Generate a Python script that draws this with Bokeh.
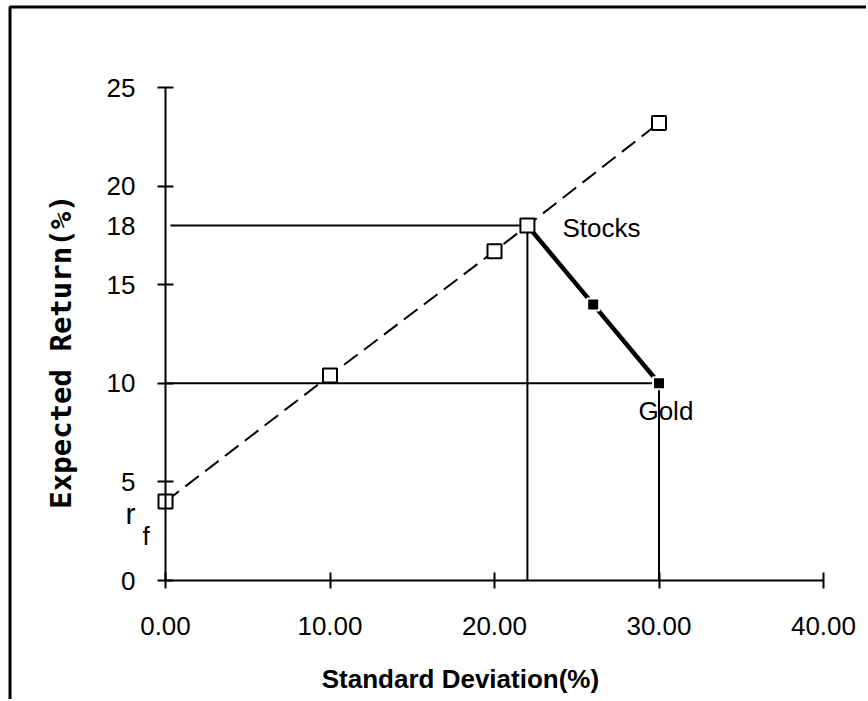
import math
from bokeh.plotting import figure
from bokeh.models import FixedTicker, NumeralTickFormatter, Label, BoxAnnotation
from bokeh.embed import file_html
from bokeh.resources import INLINE

# ---- data ----
frontier_sd = [0, 10, 20, 22, 30]          # dashed capital allocation line (open squares)
frontier_ret = [4.0, 10.4, 16.7, 18.0, 23.2]
mix_sd = [22, 26, 30]                      # stocks-gold combinations (solid thick line)
mix_ret = [18.0, 14.0, 10.0]
filled_sd = [26, 30]
filled_ret = [14.0, 10.0]
stocks_pt = (22, 18)
gold_pt = (30, 10)
x_ticks = [0, 10, 20, 30, 40]
y_ticks = [0, 5, 10, 15, 20, 25]
extra_y_label = 18

FONT = "Liberation Sans"

W, H = 866, 699
PX_X, PX_Y = 16.45, 19.72       # pixels per data unit
X0, Y0 = 165, 580               # pixel position of the origin

p = figure(frame_width=W, frame_height=H,
           x_range=(-X0 / PX_X, (W - X0) / PX_X),
           y_range=(-(H - Y0) / PX_Y, Y0 / PX_Y),
           min_border_left=0, min_border_right=0, min_border_top=0, min_border_bottom=0,
           output_backend="svg", toolbar_location=None)
p.outline_line_color = None
p.grid.visible = False
p.background_fill_color = "white"
p.border_fill_color = "white"

for ax in (p.xaxis[0], p.yaxis[0]):
    ax.fixed_location = 0
    ax.axis_line_width = 2
    ax.axis_line_color = "black"
    ax.major_tick_line_width = 2
    ax.major_tick_line_color = "black"
    ax.major_tick_in = 8
    ax.major_tick_out = 8
    ax.minor_tick_line_color = None
    ax.major_label_text_font = FONT
    ax.major_label_text_font_size = "26px"
    ax.major_label_text_color = "black"

p.xaxis[0].bounds = (0, 40)
p.xaxis[0].ticker = FixedTicker(ticks=x_ticks)
p.xaxis[0].formatter = NumeralTickFormatter(format="0.00")
p.xaxis[0].major_label_standoff = 28

p.yaxis[0].bounds = (0, 25)
p.yaxis[0].ticker = FixedTicker(ticks=y_ticks)
p.yaxis[0].major_label_standoff = 22

# reference lines
p.line([0.3, stocks_pt[0]], [stocks_pt[1], stocks_pt[1]], line_color="black", line_width=2)
p.line([0, gold_pt[0]], [gold_pt[1], gold_pt[1]], line_color="black", line_width=2)
p.line([stocks_pt[0], stocks_pt[0]], [0, stocks_pt[1]], line_color="black", line_width=2)
p.line([gold_pt[0], gold_pt[0]], [0, gold_pt[1]], line_color="black", line_width=2)

# stocks-gold combination line
p.line(mix_sd, mix_ret, line_color="black", line_width=4.5)
p.scatter(filled_sd, filled_ret, marker="square", size=12, fill_color="black",
          line_color="white", line_width=2)

# dashed line with open squares
p.line(frontier_sd, frontier_ret, line_color="black", line_width=2, line_dash="17 8")
p.scatter(frontier_sd, frontier_ret, marker="square", size=14, fill_color="white",
          line_color="black", line_width=2)

def lab(x, y, t, size="26px", align="left", baseline="alphabetic", style="normal",
        font=FONT, angle=0.0):
    p.add_layout(Label(x=x, y=y, text=t, text_font=font, text_font_size=size,
                       text_align=align, text_baseline=baseline, text_font_style=style,
                       text_color="black", angle=angle))

lab(24.13, 17.90, "Stocks")
lab(28.75, 8.57, "Gold")
lab(-2.43, 3.40, "r", size="30px")
lab(-1.40, 2.28, "f")
lab(-1.824, extra_y_label, str(extra_y_label), align="right", baseline="middle")
lab(17.93, -5.02, "Standard Deviation(%)", size="26px", align="center", style="bold")
lab(-6.38, 11.61, "Expected Return(%)", size="29px", align="center", style="bold",
    font="DejaVu Sans Mono", angle=math.pi / 2)

# page frame (top and left border)
p.add_layout(BoxAnnotation(left=9.5, top=6.5, right=3000, bottom=3000,
                           left_units="canvas", right_units="canvas",
                           top_units="canvas", bottom_units="canvas",
                           fill_color=None, fill_alpha=0, line_color="black",
                           line_alpha=1.0, line_width=3))

open("out.html", "w").write(file_html(p, INLINE))
